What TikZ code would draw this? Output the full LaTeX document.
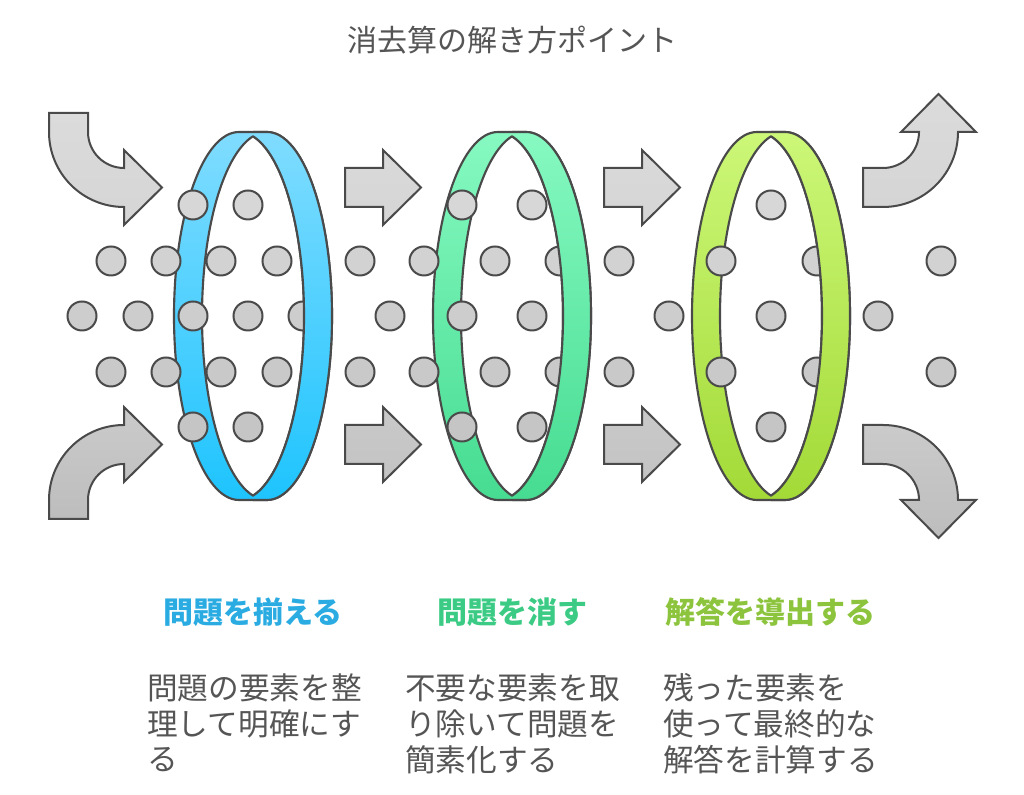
\documentclass[tikz,border=0pt]{standalone}
\usepackage{fontspec}
\setmainfont{Noto Sans CJK JP}
\newfontfamily\cjk{Noto Sans CJK JP}
\definecolor{lineC}{HTML}{4A4A4A}
\definecolor{txtC}{HTML}{555555}
\definecolor{blueA}{HTML}{80DCFF}
\definecolor{blueB}{HTML}{1EC4FE}
\definecolor{greenA}{HTML}{86F9C1}
\definecolor{greenB}{HTML}{46DC91}
\definecolor{limeA}{HTML}{CCF778}
\definecolor{limeB}{HTML}{A3DA37}
\definecolor{blueT}{HTML}{2AACE2}
\definecolor{greenT}{HTML}{3CCB85}
\definecolor{limeT}{HTML}{8DC43D}
\definecolor{grayA}{HTML}{DBDBDB}
\definecolor{grayB}{HTML}{BDBDBD}
\tikzset{
  ringline/.style={draw=lineC,line width=1.6pt,line join=round},
  arrowshape/.style={draw=lineC,line width=1.5pt,line join=miter},
  dotshape/.style={draw=lineC,line width=1.5pt},
  title/.style={text=txtC,font=\cjk\fontsize{22.5pt}{27pt}\selectfont,inner sep=0pt},
  heading/.style={font=\cjk\bfseries\fontsize{22.5pt}{27pt}\selectfont,inner sep=0pt},
  body/.style={text=txtC,font=\cjk\fontsize{23pt}{27pt}\selectfont,inner sep=0pt,anchor=west}
}
\newcommand\RingDraw[3]{%
  \shade[top color=#2,bottom color=#3,even odd rule]
    (#1-14,663) -- (#1+14,663) arc[start angle=90,end angle=-90,x radius=65,y radius=184]
    -- (#1-14,295) arc[start angle=270,end angle=90,x radius=65,y radius=184] -- cycle
    (#1,658.7) arc[start angle=77.56,end angle=-77.56,x radius=65,y radius=184]
    arc[start angle=257.56,end angle=102.44,x radius=65,y radius=184] -- cycle;
  \draw[ringline]
    (#1-14,663) -- (#1+14,663) arc[start angle=90,end angle=-90,x radius=65,y radius=184]
    -- (#1-14,295) arc[start angle=270,end angle=90,x radius=65,y radius=184] -- cycle;
  \draw[ringline]
    (#1,658.7) arc[start angle=77.56,end angle=-77.56,x radius=65,y radius=184]
    arc[start angle=257.56,end angle=102.44,x radius=65,y radius=184] -- cycle;
}
\newcommand\RingFront[3]{%
  \begin{scope}
    \clip (#1,250) rectangle (#1+100,720);
    \RingDraw{#1}{#2}{#3}
  \end{scope}
}
\begin{document}
\begin{tikzpicture}[x=0.75pt,y=0.75pt]
\useasboundingbox (0,0) rectangle (1024,795);
\fill[white] (0,0) rectangle (1024,795);

% title
\node[title] (title) at (512,755) {消去算の解き方ポイント};

% arrows
\shade[arrowshape,top color=grayA!100,bottom color=grayA!80!grayB]
  (49,682) -- (49,663) arc[start angle=180,end angle=270,radius=75]
  -- (124,570) -- (162,607.5) -- (124,645) -- (124,627)
  arc[start angle=270,end angle=180,radius=36] -- (88,682) -- cycle;
\shade[arrowshape,top color=grayA!45!grayB,bottom color=grayB]
  (49,276) -- (49,295) arc[start angle=180,end angle=90,radius=75]
  -- (124,388) -- (162,350.5) -- (124,313) -- (124,331)
  arc[start angle=90,end angle=180,radius=36] -- (88,276) -- cycle;
\foreach \dx in {0,259}{
  \shade[arrowshape,top color=grayA!95!grayB,bottom color=grayA!80!grayB]
    (345+\dx,627) -- (383+\dx,627) -- (383+\dx,645) -- (421+\dx,607.5)
    -- (383+\dx,570) -- (383+\dx,588) -- (345+\dx,588) -- cycle;
  \shade[arrowshape,top color=grayA!40!grayB,bottom color=grayA!20!grayB]
    (345+\dx,370) -- (383+\dx,370) -- (383+\dx,388) -- (421+\dx,350.5)
    -- (383+\dx,313) -- (383+\dx,331) -- (345+\dx,331) -- cycle;
}
\shade[arrowshape,top color=grayA,bottom color=grayA!80!grayB]
  (863,588) -- (883,588) arc[start angle=270,end angle=360,radius=75]
  -- (976,663) -- (938.5,701) -- (901,663) -- (919,663)
  arc[start angle=0,end angle=-90,radius=36] -- (863,627) -- cycle;
\shade[arrowshape,top color=grayA!45!grayB,bottom color=grayB]
  (863,370) -- (883,370) arc[start angle=90,end angle=0,radius=75]
  -- (976,295) -- (938.5,257) -- (901,295) -- (919,295)
  arc[start angle=0,end angle=90,radius=36] -- (863,331) -- cycle;

% rings (back)
\RingDraw{253}{blueA}{blueB}
\RingDraw{512}{greenA}{greenB}
\RingDraw{771}{limeA}{limeB}

% dots
\foreach \x in {193,248,462,532,771}
  \draw[dotshape,fill=grayA!85!grayB] (\x,590) circle[radius=14.5];
\foreach \x in {111,166,221,277,360,424,495,560,619,721,817,941}
  \draw[dotshape,fill=grayA!70!grayB] (\x,534) circle[radius=14.5];
\foreach \x in {82,138,193,248,303,390,462,532,669,771,878}
  \draw[dotshape,fill=grayA!55!grayB] (\x,479) circle[radius=14.5];
\foreach \x in {111,166,221,277,360,424,495,560,619,721,817,941}
  \draw[dotshape,fill=grayA!40!grayB] (\x,423) circle[radius=14.5];
\foreach \x in {193,248,462,532,771}
  \draw[dotshape,fill=grayA!25!grayB] (\x,368) circle[radius=14.5];

% rings (front parts)
\RingFront{253}{blueA}{blueB}
\RingFront{512}{greenA}{greenB}
\RingFront{771}{limeA}{limeB}

% headings
\node[heading,text=blueT] (h1) at (253,183) {問題を揃える};
\node[heading,text=greenT] (h2) at (512,183) {問題を消す};
\node[heading,text=limeT] (h3) at (770,183) {解答を導出する};

% body texts
\node[body] (b11) at (147,107) {問題の要素を整};
\node[body] (b12) at (147,71) {理して明確にす};
\node[body] (b13) at (147,35) {る};
\node[body] (b21) at (405,107) {不要な要素を取};
\node[body] (b22) at (405,71) {り除いて問題を};
\node[body] (b23) at (405,35) {簡素化する};
\node[body] (b31) at (663,107) {残った要素を};
\node[body] (b32) at (663,71) {使って最終的な};
\node[body] (b33) at (663,35) {解答を計算する};
\end{tikzpicture}
\end{document}
